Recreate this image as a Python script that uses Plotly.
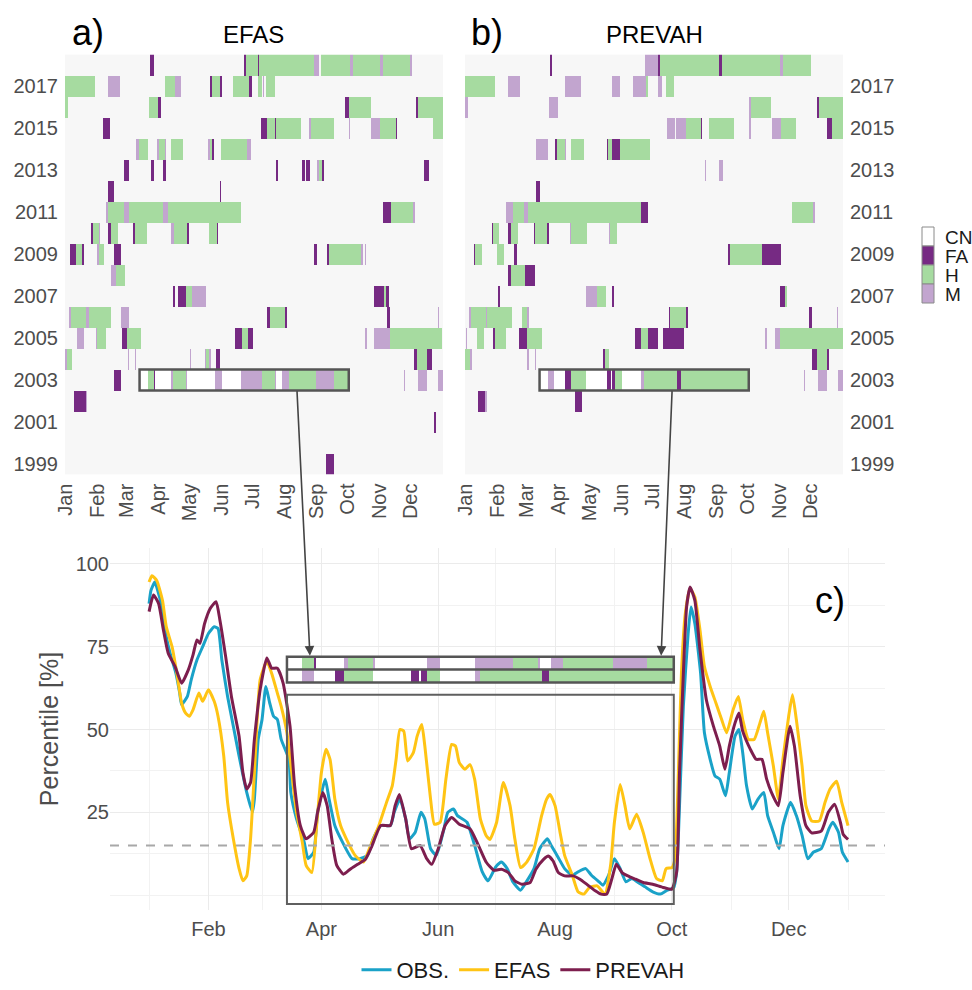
import plotly.graph_objects as go

FIG_W, FIG_H = 972, 990
FONT = "Liberation Sans, Arial, sans-serif"
TICK_COLOR = "#4d4d4d"

# ---------------- heatmap axes ----------------
N_DAYS = 365
MONTH_STARTS = [0, 31, 59, 90, 120, 151, 181, 212, 243, 273, 304, 334]
MONTH_LABELS = ["Jan", "Feb", "Mar", "Apr", "May", "Jun", "Jul", "Aug", "Sep", "Oct", "Nov", "Dec"]
YEARS = list(range(1999, 2019))
YEAR_TICKS = list(range(1999, 2018, 2))

CATEGORIES = ["CN", "FA", "H", "M"]
CATEGORY_COLORS = ["#f7f7f7", "#762a83", "#a6dba0", "#c2a5cf"]
HIGHLIGHT_CN_COLOR = "#ffffff"

HIGHLIGHT_YEAR = 2003
BOX_START, BOX_END = 72, 274
THRESHOLD = 15

# (year, first day, end day (exclusive), category) -- day of year starting at 0
EFAS_SEGMENTS = [
    (2018, 82, 86, "FA"), (2018, 173, 175, "FA"), (2018, 175, 186, "H"), (2018, 186, 187, "FA"),
    (2018, 187, 240, "H"), (2018, 240, 245, "M"), (2018, 247, 275, "H"), (2018, 275, 278, "M"),
    (2018, 278, 304, "H"), (2018, 304, 307, "M"), (2018, 307, 333, "H"), (2018, 333, 335, "M"),
    (2017, 0, 29, "H"), (2017, 42, 53, "M"), (2017, 97, 106, "H"), (2017, 106, 112, "M"),
    (2017, 140, 142, "FA"), (2017, 142, 150, "H"), (2017, 150, 152, "FA"), (2017, 162, 178, "H"),
    (2017, 178, 181, "FA"), (2017, 186, 190, "H"), (2017, 191, 192, "M"), (2017, 194, 203, "H"),
    (2016, 0, 3, "H"), (2016, 81, 90, "H"), (2016, 90, 93, "FA"), (2016, 270, 274, "FA"),
    (2016, 274, 295, "H"), (2016, 339, 341, "FA"), (2016, 341, 365, "H"),
    (2015, 37, 43, "FA"), (2015, 189, 195, "FA"), (2015, 195, 203, "H"), (2015, 203, 204, "FA"),
    (2015, 204, 228, "H"), (2015, 236, 238, "M"), (2015, 238, 260, "H"), (2015, 274, 275, "M"),
    (2015, 295, 304, "M"), (2015, 304, 320, "H"), (2015, 320, 321, "FA"), (2015, 355, 365, "H"),
    (2014, 69, 71, "M"), (2014, 71, 80, "H"), (2014, 89, 91, "M"), (2014, 91, 97, "H"),
    (2014, 97, 98, "M"), (2014, 102, 114, "H"), (2014, 138, 140, "M"), (2014, 140, 142, "H"),
    (2014, 142, 144, "FA"), (2014, 151, 176, "H"), (2014, 176, 180, "M"),
    (2013, 57, 62, "FA"), (2013, 83, 86, "FA"), (2013, 95, 98, "FA"), (2013, 204, 206, "FA"),
    (2013, 229, 232, "FA"), (2013, 233, 237, "FA"), (2013, 243, 245, "M"), (2013, 245, 248, "H"),
    (2013, 248, 250, "FA"), (2013, 347, 351, "FA"),
    (2012, 42, 47, "FA"), (2012, 150, 151, "FA"),
    (2011, 40, 42, "M"), (2011, 42, 57, "H"), (2011, 57, 62, "M"), (2011, 62, 95, "H"),
    (2011, 95, 99, "M"), (2011, 99, 170, "H"), (2011, 307, 315, "FA"), (2011, 315, 336, "H"),
    (2011, 336, 338, "M"),
    (2010, 25, 27, "FA"), (2010, 27, 33, "H"), (2010, 33, 34, "M"), (2010, 42, 44, "FA"),
    (2010, 44, 51, "H"), (2010, 66, 68, "FA"), (2010, 68, 79, "H"), (2010, 102, 105, "M"),
    (2010, 105, 118, "H"), (2010, 118, 120, "FA"), (2010, 139, 147, "H"), (2010, 147, 148, "FA"),
    (2009, 5, 11, "FA"), (2009, 11, 16, "H"), (2009, 16, 18, "FA"), (2009, 31, 33, "M"),
    (2009, 33, 38, "H"), (2009, 47, 54, "FA"), (2009, 240, 243, "FA"), (2009, 253, 255, "FA"),
    (2009, 255, 286, "H"), (2009, 286, 288, "M"), (2009, 290, 291, "M"),
    (2008, 44, 49, "M"), (2008, 49, 58, "H"),
    (2007, 104, 106, "FA"), (2007, 109, 117, "FA"), (2007, 117, 123, "H"), (2007, 123, 136, "M"),
    (2007, 298, 308, "FA"), (2007, 308, 310, "H"), (2007, 310, 313, "FA"),
    (2006, 4, 6, "M"), (2006, 6, 20, "H"), (2006, 20, 23, "M"), (2006, 23, 44, "H"),
    (2006, 54, 62, "M"), (2006, 195, 198, "FA"), (2006, 198, 212, "H"), (2006, 212, 214, "FA"),
    (2006, 311, 314, "FA"), (2006, 360, 361, "M"),
    (2005, 12, 18, "M"), (2005, 30, 31, "M"), (2005, 31, 40, "H"), (2005, 55, 60, "FA"),
    (2005, 60, 73, "H"), (2005, 164, 171, "FA"), (2005, 171, 177, "H"), (2005, 177, 182, "FA"),
    (2005, 290, 292, "M"), (2005, 298, 314, "M"), (2005, 314, 364, "H"),
    (2004, 0, 2, "M"), (2004, 2, 7, "H"), (2004, 61, 62, "M"), (2004, 68, 69, "M"),
    (2004, 121, 122, "M"), (2004, 135, 136, "M"), (2004, 136, 139, "H"), (2004, 139, 141, "M"),
    (2004, 146, 150, "FA"), (2004, 337, 340, "FA"), (2004, 340, 350, "H"), (2004, 350, 354, "FA"),
    (2003, 47, 54, "FA"), (2003, 80, 86, "H"), (2003, 86, 87, "FA"), (2003, 102, 104, "M"),
    (2003, 104, 117, "H"), (2003, 117, 118, "M"), (2003, 145, 152, "M"), (2003, 170, 190, "M"),
    (2003, 190, 203, "H"), (2003, 203, 204, "M"), (2003, 210, 216, "M"), (2003, 216, 242, "H"),
    (2003, 242, 260, "M"), (2003, 260, 274, "H"), (2003, 327, 328, "M"), (2003, 341, 350, "M"),
    (2003, 360, 365, "M"),
    (2002, 9, 20, "FA"), (2002, 20, 21, "M"),
    (2001, 356, 358, "FA"),
    (1999, 252, 260, "FA"),
]

PREVAH_SEGMENTS = [
    (2018, 82, 84, "FA"), (2018, 174, 186, "M"), (2018, 186, 188, "FA"), (2018, 188, 245, "H"),
    (2018, 245, 248, "FA"), (2018, 248, 304, "H"), (2018, 304, 307, "M"), (2018, 307, 334, "H"),
    (2017, 0, 29, "H"), (2017, 42, 53, "M"), (2017, 97, 112, "M"), (2017, 142, 150, "M"),
    (2017, 162, 175, "M"), (2017, 175, 177, "H"), (2017, 186, 190, "M"), (2017, 194, 202, "H"),
    (2016, 0, 3, "M"), (2016, 81, 90, "M"), (2016, 274, 276, "M"), (2016, 276, 295, "H"),
    (2016, 340, 342, "FA"), (2016, 342, 365, "H"),
    (2015, 195, 203, "M"), (2015, 204, 213, "M"), (2015, 213, 228, "H"), (2015, 228, 229, "FA"),
    (2015, 236, 260, "H"), (2015, 274, 276, "M"), (2015, 296, 305, "M"), (2015, 305, 320, "H"),
    (2015, 350, 354, "FA"), (2015, 354, 365, "H"),
    (2014, 69, 80, "M"), (2014, 87, 89, "FA"), (2014, 89, 97, "H"), (2014, 97, 98, "M"),
    (2014, 102, 115, "H"), (2014, 137, 138, "FA"), (2014, 138, 142, "H"), (2014, 142, 150, "FA"),
    (2014, 150, 179, "H"),
    (2013, 232, 233, "M"), (2013, 245, 249, "M"),
    (2012, 69, 72, "FA"),
    (2011, 40, 46, "M"), (2011, 46, 57, "H"), (2011, 57, 61, "M"), (2011, 61, 170, "H"),
    (2011, 170, 177, "FA"), (2011, 316, 336, "H"), (2011, 336, 338, "M"),
    (2010, 26, 27, "FA"), (2010, 27, 33, "H"), (2010, 42, 44, "FA"), (2010, 44, 51, "H"),
    (2010, 67, 68, "FA"), (2010, 68, 79, "H"), (2010, 79, 81, "FA"), (2010, 101, 102, "M"),
    (2010, 102, 118, "H"), (2010, 139, 140, "M"), (2010, 140, 147, "H"),
    (2009, 9, 10, "FA"), (2009, 10, 16, "H"), (2009, 31, 38, "H"), (2009, 47, 50, "FA"),
    (2009, 254, 256, "FA"), (2009, 256, 287, "H"), (2009, 287, 305, "FA"),
    (2008, 42, 44, "FA"), (2008, 44, 58, "H"), (2008, 58, 68, "FA"),
    (2007, 32, 34, "FA"), (2007, 117, 127, "M"), (2007, 127, 136, "H"), (2007, 142, 144, "FA"),
    (2007, 304, 309, "FA"), (2007, 309, 311, "H"),
    (2006, 4, 6, "M"), (2006, 6, 20, "H"), (2006, 20, 21, "M"), (2006, 21, 45, "H"),
    (2006, 55, 60, "H"), (2006, 60, 62, "M"), (2006, 197, 198, "FA"), (2006, 198, 213, "H"),
    (2006, 213, 215, "FA"), (2006, 332, 335, "FA"), (2006, 359, 360, "M"),
    (2005, 1, 2, "M"), (2005, 12, 18, "H"), (2005, 27, 29, "FA"), (2005, 29, 40, "H"),
    (2005, 52, 60, "FA"), (2005, 60, 74, "H"), (2005, 164, 170, "FA"), (2005, 170, 177, "H"),
    (2005, 177, 186, "FA"), (2005, 191, 211, "FA"), (2005, 290, 292, "M"), (2005, 299, 304, "M"),
    (2005, 304, 365, "H"),
    (2004, 0, 5, "H"), (2004, 5, 7, "M"), (2004, 60, 62, "M"), (2004, 68, 69, "M"),
    (2004, 133, 135, "FA"), (2004, 135, 139, "H"), (2004, 335, 340, "FA"), (2004, 340, 350, "H"),
    (2004, 350, 351, "FA"),
    (2003, 80, 86, "M"), (2003, 97, 102, "FA"), (2003, 102, 117, "H"), (2003, 137, 141, "FA"),
    (2003, 142, 145, "FA"), (2003, 145, 152, "H"), (2003, 170, 173, "M"), (2003, 173, 205, "H"),
    (2003, 205, 209, "FA"), (2003, 209, 274, "H"), (2003, 327, 328, "M"), (2003, 341, 350, "M"),
    (2003, 360, 365, "M"),
    (2002, 13, 19, "FA"), (2002, 19, 21, "M"), (2002, 106, 113, "FA"),
]

# ---------------- 2003 percentile series (day of year, percentile) ----------------
OBS_DAY = [0, 1, 3, 4, 7, 9, 11, 14, 16, 17, 20, 22, 25, 28, 31, 34, 36, 38, 41, 44, 47, 51, 54, 55,
           57, 59, 61, 63, 65, 67, 69, 73, 74, 77, 81, 83, 86, 88, 92, 94, 97, 101, 106, 110, 114,
           117, 121, 126, 128, 131, 134, 136, 139, 142, 144, 147, 150, 154, 156, 159, 161, 166,
           170, 174, 177, 181, 184, 187, 190, 194, 197, 201, 204, 208, 210, 214, 217, 221, 224,
           228, 231, 235, 237, 240, 243, 246, 249, 252, 255, 259, 263, 267, 270, 274, 275.5, 277,
           279, 281.5, 283, 285, 288, 290, 293, 295.5, 298, 301, 303, 306, 308, 310, 312, 315,
           318, 321, 323, 326, 329, 331, 335, 338, 341, 344, 347, 351, 355, 357, 360, 362, 365]
OBS_PCT = [88, 92, 94.5, 93, 86, 78, 73, 67, 61, 57.5, 60, 65, 71, 75, 79, 81, 80.5, 71, 60, 51, 42,
           31, 25, 29, 47, 53, 63, 58, 54, 53, 47, 41, 31, 23, 16, 11, 13, 25, 35, 29, 21, 16, 11,
           11, 12, 17, 21, 21, 25, 29, 23, 17, 19, 25, 23, 14, 12, 20, 25, 26, 24, 22, 15, 7, 4.3,
           8.5, 10, 8, 4, 1.5, 4, 8, 14, 17, 15, 11, 8, 6, 7, 8, 6, 4, 3, 6, 11, 8, 4, 5, 4, 2.5,
           1, 0.3, 1.3, 2.3, 7, 27, 57, 79, 87, 82, 67, 49, 41, 36, 35, 30, 37, 48, 50, 43, 33,
           26, 29, 31, 24, 19, 14, 21, 28, 24, 18, 11, 13, 14, 20, 22, 19, 13, 10]

EFAS_DAY = [0, 1.5, 4, 7, 9, 12, 14.5, 17, 19, 21, 23, 26, 28, 31, 34, 36, 39, 41, 44, 47, 49, 51,
            53, 55, 58, 61.5, 64, 67, 69, 72, 74.5, 77, 80, 82, 85, 87.5, 90, 92.4, 94.5, 97, 100,
            103, 107.6, 112, 115, 120, 124, 127, 129, 131, 133, 135, 138, 140, 142.4, 144, 147,
            149, 152, 155, 158, 160, 162, 165, 167.6, 170, 173, 176, 178, 181.5, 185, 188.5, 191,
            194, 197, 201, 205, 207.6, 209.4, 212, 214.6, 217, 221, 224, 227, 230, 234, 238, 241,
            243, 246, 248.5, 251, 254.6, 258, 261.6, 265, 268, 270, 273, 274.6, 276.4, 278, 280,
            282.5, 285, 287.7, 290, 293, 296, 299, 301.6, 305, 307.7, 310, 313, 316, 319, 321,
            323, 326, 328.6, 331, 334, 336, 338, 341, 343, 346, 350, 353, 355.6, 359, 361.7, 365]
EFAS_PCT = [94.5, 96.4, 95, 89, 81, 75, 67, 58, 55, 54, 56, 61, 58.5, 62, 58.5, 54, 42, 28, 17, 8,
            4.3, 5.8, 17, 37, 65, 70.6, 67, 61, 57, 49, 37, 25, 16, 9, 6.8, 21, 37, 44, 41, 29, 21,
            17, 12, 10, 14, 21, 28, 33, 41, 50, 49.5, 40.5, 43, 48, 51.5, 45, 29, 21.4, 22, 35,
            45.5, 45, 40, 38, 39.4, 35, 23, 18, 16.8, 22, 34, 27, 17, 8.3, 9.8, 14, 24, 29, 30.4,
            27, 19, 12, 6, 1, 0.3, 2.3, 2.8, 0.3, 9, 22, 33.4, 27, 20, 24.4, 19, 11, 5, 4.3, 8,
            8.3, 11, 37, 67, 85, 92.6, 90, 80, 69, 63, 58, 53, 49, 56, 60, 53, 47, 47, 52, 55.5,
            49, 39, 29, 41, 54, 60.5, 53, 39, 27, 22.4, 22.4, 28, 32, 34.4, 28, 21]

PREVAH_DAY = [0, 2.3, 5, 7.5, 10, 13.6, 17, 20.5, 23, 25, 26.6, 29, 32, 35, 37, 40, 43, 47, 49, 51,
              53, 55, 58, 61.5, 64, 67, 70, 73.6, 76, 79, 82, 86, 88, 90.7, 93, 95.4, 98, 101.5,
              105, 109, 113, 116, 121, 126, 128.5, 130.7, 134, 137, 141.5, 145, 147.6, 151, 154.6,
              158, 162, 167.6, 172, 176, 180, 184, 187.6, 191, 194.6, 199, 202, 206, 208.5, 211,
              213.7, 217, 221.5, 225, 228.5, 233, 236, 239, 241.6, 244, 247, 250, 254, 258, 263,
              268.5, 273, 275.5, 277, 279, 280.7, 282.5, 285, 287.7, 291, 294.7, 298, 300.7, 303,
              306, 308, 310, 314, 317, 320, 322.5, 325, 328.6, 331, 334.7, 337, 340, 343, 346,
              351, 354.7, 358, 361, 362.5, 365]
PREVAH_PCT = [85.6, 90.6, 88, 80, 73, 69, 64, 68, 72.6, 77, 76, 82, 86.6, 88.6, 83, 72, 60, 48, 37,
              32, 34, 47, 62, 71.6, 68.5, 68.5, 64, 51, 33, 21, 17, 19, 25, 31, 27, 17, 9, 6.3,
              7.8, 9.3, 10.8, 14.3, 21, 21, 27, 30.4, 23, 14, 15, 11, 9.3, 14, 21, 23.4, 21.4, 20,
              15, 10, 7.5, 7.8, 6.8, 4.3, 3.3, 3.8, 7.8, 10.8, 11.8, 10.3, 6.8, 5.8, 5.8, 4.8, 3.3,
              1.3, 0.3, 0.3, 4.8, 9.3, 6.8, 5.8, 4.8, 3.8, 3.3, 2.3, 1.8, 7, 37, 67, 87, 93, 89,
              74, 59, 51, 45, 38, 45, 52, 55, 49.5, 44, 41, 41, 35, 31, 27, 37, 51, 45, 30, 21,
              18.8, 19.3, 25, 27.4, 22, 18.3, 16.8]

SERIES = [("OBS.", OBS_DAY, OBS_PCT, "#1aa2c8"),
          ("EFAS", EFAS_DAY, EFAS_PCT, "#ffc414"),
          ("PREVAH", PREVAH_DAY, PREVAH_PCT, "#7d1e4e")]

C_TICK_DAYS = [31, 90, 151, 212, 273, 334]
C_TICK_LABELS = ["Feb", "Apr", "Jun", "Aug", "Oct", "Dec"]
C_MINOR_DAYS = [0, 59, 120, 181, 243, 304, 365]
C_Y_TICKS = [25, 50, 75, 100]
C_Y_MINOR = [0, 12.5, 37.5, 62.5, 87.5]

# inset strip placement inside panel c (percentile units) and zoom box
STRIP_LO, STRIP_HI = 64.2, 72.0
ZOOM_LO, ZOOM_HI = -2.7, 60.5


# ---------------- helpers ----------------
def px(x):
    return x / FIG_W


def py(y):
    return 1 - y / FIG_H


CODE = {c: i for i, c in enumerate(CATEGORIES)}


def build_grid(segments):
    grid = [[0] * N_DAYS for _ in YEARS]
    for yr, s, e, cat in segments:
        row = YEARS.index(yr)
        for d in range(s, min(e, N_DAYS)):
            grid[row][d] = CODE[cat]
    r = YEARS.index(HIGHLIGHT_YEAR)
    for d in range(BOX_START, BOX_END):
        if grid[r][d] == 0:
            grid[r][d] = len(CATEGORIES)  # CN inside highlighted window
    return grid


colors5 = CATEGORY_COLORS + [HIGHLIGHT_CN_COLOR]
n = len(colors5)
colorscale = []
for i, c in enumerate(colors5):
    colorscale += [[i / n, c], [(i + 1) / n, c]]

efas_grid = build_grid(EFAS_SEGMENTS)
prevah_grid = build_grid(PREVAH_SEGMENTS)
day_centers = [d + 0.5 for d in range(N_DAYS)]

fig = go.Figure()
hm_common = dict(colorscale=colorscale, zmin=-0.5, zmax=n - 0.5, showscale=False, hoverinfo="skip")
fig.add_trace(go.Heatmap(z=efas_grid, x=day_centers, y=YEARS, xaxis="x", yaxis="y", **hm_common))
fig.add_trace(go.Heatmap(z=prevah_grid, x=day_centers, y=YEARS, xaxis="x2", yaxis="y2", **hm_common))

hr = YEARS.index(HIGHLIGHT_YEAR)
strip_z = [prevah_grid[hr][BOX_START:BOX_END], efas_grid[hr][BOX_START:BOX_END]]
strip_mid = (STRIP_LO + STRIP_HI) / 2
fig.add_trace(go.Heatmap(z=strip_z, x=[d + 0.5 for d in range(BOX_START, BOX_END)],
                         y=[(STRIP_LO + strip_mid) / 2, (strip_mid + STRIP_HI) / 2],
                         xaxis="x3", yaxis="y3", **hm_common))

for name, d, v, c in SERIES:
    fig.add_trace(go.Scatter(x=d, y=v, mode="lines", name=name,
                             line=dict(color=c, width=3, shape="spline", smoothing=0.5),
                             xaxis="x3", yaxis="y3", hoverinfo="skip"))

tickfont = dict(family=FONT, size=20, color=TICK_COLOR)

shapes = []
for xr, yr in (("x", "y"), ("x2", "y2")):
    shapes.append(dict(type="rect", xref=xr, yref=yr, x0=BOX_START, x1=BOX_END,
                       y0=HIGHLIGHT_YEAR - 0.5, y1=HIGHLIGHT_YEAR + 0.5,
                       line=dict(color="#555555", width=2.5)))
shapes.append(dict(type="line", xref="x3 domain", yref="y3", x0=0, x1=1, y0=THRESHOLD, y1=THRESHOLD,
                   line=dict(color="#a8a8a8", width=2, dash="dash"), layer="above"))
shapes.append(dict(type="rect", xref="x3", yref="y3", x0=BOX_START, x1=BOX_END, y0=ZOOM_LO, y1=ZOOM_HI,
                   line=dict(color="#5f5f5f", width=2)))
shapes.append(dict(type="rect", xref="x3", yref="y3", x0=BOX_START, x1=BOX_END, y0=STRIP_LO, y1=STRIP_HI,
                   line=dict(color="#555555", width=2.5)))
shapes.append(dict(type="line", xref="x3", yref="y3", x0=BOX_START, x1=BOX_END, y0=strip_mid, y1=strip_mid,
                   line=dict(color="#555555", width=2.5)))

annotations = []
# category key
key_x0, key_x1, key_top, key_h = 922, 934, 227, 19
for i, (cat, col) in enumerate(zip(CATEGORIES, CATEGORY_COLORS)):
    y0 = key_top + i * key_h
    shapes.append(dict(type="rect", xref="paper", yref="paper", x0=px(key_x0), x1=px(key_x1),
                       y0=py(y0 + key_h), y1=py(y0), fillcolor=HIGHLIGHT_CN_COLOR if cat == "CN" else col,
                       line=dict(color="#8a8a8a", width=1)))
    annotations.append(dict(xref="paper", yref="paper", x=px(943), y=py(y0 + key_h / 2 + 1), text=cat,
                            showarrow=False, xanchor="left", yanchor="middle",
                            font=dict(family=FONT, size=19, color="#1a1a1a")))

for txt, x, y, size in (("a)", 88, 33, 36), ("EFAS", 254, 34, 24), ("b)", 487, 33, 36),
                        ("PREVAH", 654, 34, 24), ("c)", 830, 600, 36)):
    annotations.append(dict(xref="paper", yref="paper", x=px(x), y=py(y), text=txt, showarrow=False,
                            xanchor="center", yanchor="middle", font=dict(family=FONT, size=size, color="#000000")))

# connector arrows from the highlighted 2003 windows to the inset strip
for head_day, dx in ((84, -13), (267.4, 11)):
    annotations.append(dict(xref="x3", yref="y3", x=head_day, y=STRIP_HI + 0.3, ax=dx, ay=-266,
                            axref="pixel", ayref="pixel", text="", showarrow=True, arrowhead=2,
                            arrowsize=1.2, arrowwidth=1.6, arrowcolor="#444444"))

fig.update_layout(
    width=FIG_W, height=FIG_H, margin=dict(l=0, r=0, t=0, b=0, autoexpand=False),
    paper_bgcolor="white", plot_bgcolor="white",
    font=dict(family=FONT, color=TICK_COLOR),
    shapes=shapes, annotations=annotations,
    showlegend=True,
    legend=dict(orientation="h", x=px(523), xanchor="center", y=py(970), yanchor="middle",
                font=dict(family=FONT, size=22, color="#1a1a1a"), bgcolor="rgba(0,0,0,0)", itemwidth=30),
    xaxis=dict(domain=[px(65), px(443)], range=[0, N_DAYS], tickmode="array", tickvals=MONTH_STARTS,
               ticktext=MONTH_LABELS, tickangle=-90, showgrid=False, zeroline=False, ticks="",
               tickfont=tickfont, anchor="y", fixedrange=True, automargin=False, ticklabelstandoff=4),
    yaxis=dict(domain=[py(474.5), py(54.5)], range=[YEARS[0] - 0.5, YEARS[-1] + 0.5], tickmode="array",
               tickvals=YEAR_TICKS, ticktext=[str(y) for y in YEAR_TICKS], showgrid=False, zeroline=False,
               ticks="", tickfont=tickfont, anchor="x", fixedrange=True, automargin=False,
               ticklabelstandoff=6),
    xaxis2=dict(domain=[px(465), px(843)], range=[0, N_DAYS], tickmode="array", tickvals=MONTH_STARTS,
                ticktext=MONTH_LABELS, tickangle=-90, showgrid=False, zeroline=False, ticks="",
                tickfont=tickfont, anchor="y2", fixedrange=True, automargin=False, ticklabelstandoff=4),
    yaxis2=dict(domain=[py(474.5), py(54.5)], range=[YEARS[0] - 0.5, YEARS[-1] + 0.5], tickmode="array",
                tickvals=YEAR_TICKS, ticktext=[str(y) for y in YEAR_TICKS], showgrid=False, zeroline=False,
                ticks="", tickfont=tickfont, anchor="x2", side="right", fixedrange=True, automargin=False,
                ticklabelstandoff=6),
    xaxis3=dict(domain=[px(110), px(885)], range=[-20.4, 384.3], tickmode="array", tickvals=C_TICK_DAYS,
                ticktext=C_TICK_LABELS, showgrid=True, gridcolor="#ebebeb", gridwidth=1, zeroline=False,
                ticks="", tickfont=tickfont, anchor="y3", automargin=False, ticklabelstandoff=5,
                minor=dict(tickmode="array", tickvals=C_MINOR_DAYS, showgrid=True, gridcolor="#f2f2f2",
                           gridwidth=1, ticks="")),
    yaxis3=dict(domain=[py(910), py(548)], range=[-4.5, 104.8], tickmode="array", tickvals=C_Y_TICKS,
                showgrid=True, gridcolor="#ebebeb", gridwidth=1, zeroline=False, ticks="",
                tickfont=tickfont, anchor="x3", automargin=False,
                title=dict(text="Percentile [%]", font=dict(family=FONT, size=25, color=TICK_COLOR), standoff=9),
                minor=dict(tickmode="array", tickvals=C_Y_MINOR, showgrid=True, gridcolor="#f2f2f2",
                           gridwidth=1, ticks="")),
)

fig.write_html("out.html", config={"displayModeBar": False},
               post_script="document.body.style.margin='0';")
